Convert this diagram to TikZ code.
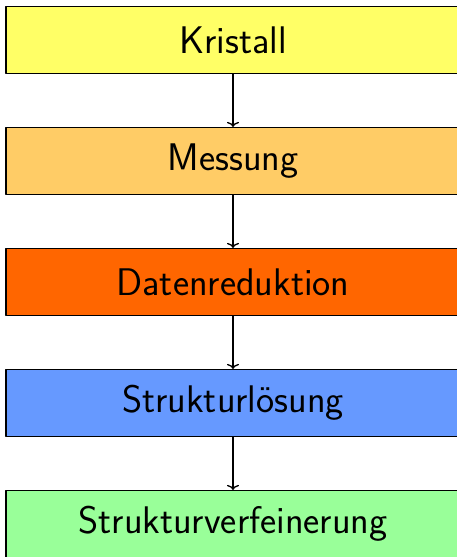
\documentclass[tikz,border=0pt]{standalone}
\usetikzlibrary{positioning,arrows.meta}
\tikzset{
  stufe/.style={draw, line width=1.2pt, minimum width=454pt, minimum height=67pt, inner sep=0pt, font=\sffamily\fontsize{38.5}{42}\selectfont},
  pfeil/.style={-{To[length=5pt, width=12pt]}, line width=1.3pt},
}
\definecolor{gelb}{HTML}{FFFF66}
\definecolor{hellorange}{HTML}{FFCC66}
\definecolor{dunkelorange}{HTML}{FF6600}
\definecolor{blau}{HTML}{6699FF}
\definecolor{gruen}{HTML}{99FF99}
\begin{document}
\begin{tikzpicture}[line join=round, x=1pt, y=1pt, node distance=52.8pt]
                \useasboundingbox (0,0) rectangle (456,-557);
                \node[stufe, fill=gelb] (kristall) at (233,-40) {Kristall};
                \node[stufe, fill=hellorange, below=of kristall] (messung) {Messung};
                \node[stufe, fill=dunkelorange, below=of messung] (daten) {Datenreduktion};
                \node[stufe, fill=blau, below=of daten] (loesung) {Strukturl\"osung};
                \node[stufe, fill=gruen, below=of loesung] (verfeinerung) {Strukturverfeinerung};
                \draw[pfeil] (kristall) -- (messung);
                \draw[pfeil] (messung) -- (daten);
                \draw[pfeil] (daten) -- (loesung);
                \draw[pfeil] (loesung) -- (verfeinerung);
            \end{tikzpicture}
\end{document}
